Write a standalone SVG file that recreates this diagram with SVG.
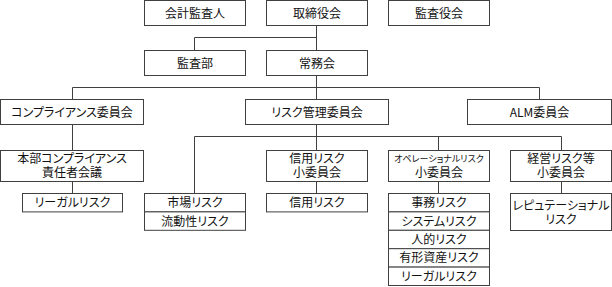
<svg xmlns="http://www.w3.org/2000/svg" width="612" height="287" viewBox="0 0 612 287">
<style>
rect{fill:#fff;stroke:#404040;stroke-width:1}
.c{fill:none;stroke:#404040;stroke-width:1}
text{font-family:"Noto Sans CJK JP","Noto Sans",sans-serif;font-size:12px;fill:#111;text-anchor:middle;font-feature-settings:"palt"}
.s{font-size:9px}
</style>
<rect width="612" height="287" style="stroke:none"/>
<g id="connectors">
<path class="c" d="M316.5,25.5V50.5M194.5,37.5H316.5M194.5,37.5V50.5M316.5,75.5V99.5M72.5,87.5H539.5M72.5,87.5V99.5M539.5,87.5V99.5M72.5,124.5V150.5M72.5,181.5V193.5M316.5,124.5V150.5M194.5,136.5H561.5M194.5,136.5V193.5M438.5,136.5V150.5M561.5,136.5V150.5M316.5,181.5V193.5M438.5,181.5V193.5M561.5,181.5V193.5"/>
</g>
<g id="kaikei"><rect x="144.5" y="0.5" width="101" height="25"/><text x="195" y="17.5">会計監査人</text></g>
<g id="torishimariyaku"><rect x="266.5" y="0.5" width="101" height="25"/><text x="317" y="17.5">取締役会</text></g>
<g id="kansayaku"><rect x="388.5" y="0.5" width="101" height="25"/><text x="439" y="17.5">監査役会</text></g>
<g id="kansabu"><rect x="144.5" y="50.5" width="101" height="25"/><text x="195" y="67.5">監査部</text></g>
<g id="jomukai"><rect x="266.5" y="50.5" width="101" height="25"/><text x="317" y="67.5">常務会</text></g>
<g id="compliance"><rect x="0.5" y="99.5" width="143" height="25"/><text x="72" y="116.5">コンプライアンス委員会</text></g>
<g id="risk"><rect x="245.5" y="99.5" width="143" height="25"/><text x="317" y="116.5">リスク管理委員会</text></g>
<g id="alm"><rect x="467.5" y="99.5" width="144" height="25"/><text x="539.5" y="116.5">ALM委員会</text></g>
<g id="honbu"><rect x="0.5" y="150.5" width="143" height="31"/><text x="72" y="162.5">本部コンプライアンス</text><text x="72" y="177">責任者会議</text></g>
<g id="shinyo-sub"><rect x="266.5" y="150.5" width="101" height="31"/><text x="317" y="162.5">信用リスク</text><text x="317" y="177">小委員会</text></g>
<g id="op-sub"><rect x="388.5" y="150.5" width="101" height="31"/><text class="s" x="439" y="161.5">オペレーショナルリスク</text><text x="439" y="177">小委員会</text></g>
<g id="keiei-sub"><rect x="510.5" y="150.5" width="101" height="31"/><text x="561" y="162.5">経営リスク等</text><text x="561" y="177">小委員会</text></g>
<g id="legal1"><rect x="22.5" y="193.5" width="100" height="18.4"/><text x="72.5" y="207.2">リーガルリスク</text></g>
<g id="market"><rect x="144.5" y="193.5" width="101" height="18.4"/><text x="195" y="207.2">市場リスク</text><rect x="144.5" y="211.9" width="101" height="18.4"/><text x="195" y="225.6">流動性リスク</text></g>
<g id="shinyo"><rect x="266.5" y="193.5" width="101" height="18.4"/><text x="317" y="207.2">信用リスク</text></g>
<g id="op-risks">
<rect x="388.5" y="193.5" width="101" height="18.4"/><text x="439" y="207.2">事務リスク</text>
<rect x="388.5" y="211.9" width="101" height="18.4"/><text x="439" y="225.6">システムリスク</text>
<rect x="388.5" y="230.3" width="101" height="18.4"/><text x="439" y="244">人的リスク</text>
<rect x="388.5" y="248.7" width="101" height="18.4"/><text x="439" y="262.4">有形資産リスク</text>
<rect x="388.5" y="267.1" width="101" height="18.4"/><text x="439" y="280.8">リーガルリスク</text>
</g>
<g id="reputation"><rect x="510.5" y="193.5" width="101" height="37"/><text x="561" y="209.5">レピュテーショナル</text><text x="561" y="223.5">リスク</text></g>
</svg>
